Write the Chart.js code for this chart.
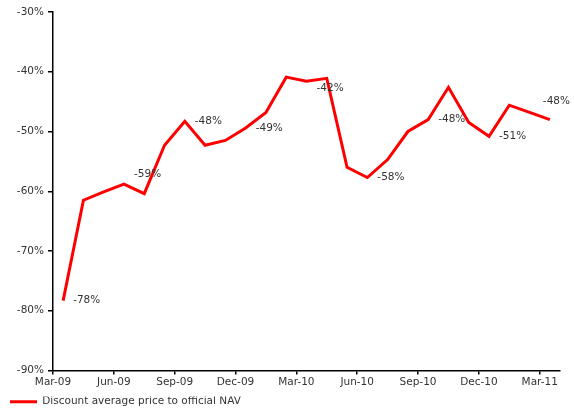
<!DOCTYPE html>
<html>
<head>
<meta charset="utf-8">
<script src="https://cdn.jsdelivr.net/npm/chart.js@4/dist/chart.umd.min.js"></script>
<style>
  html, body { margin: 0; padding: 0; background: #fff; }
  #wrap { width: 574px; height: 409px; }
</style>
</head>
<body>
<div id="wrap"><canvas id="navChart"></canvas></div>
<script>
// Monthly discount of average price to official NAV, Mar-09 .. Mar-11
const months = [
  'Mar-09', 'Apr-09', 'May-09', 'Jun-09', 'Jul-09', 'Aug-09', 'Sep-09', 'Oct-09', 'Nov-09',
  'Dec-09', 'Jan-10', 'Feb-10', 'Mar-10', 'Apr-10', 'May-10', 'Jun-10', 'Jul-10', 'Aug-10',
  'Sep-10', 'Oct-10', 'Nov-10', 'Dec-10', 'Jan-11', 'Feb-11', 'Mar-11'
];
const discount = [
  -78.3, -61.5, -60.1, -58.8, -60.4, -52.3, -48.3, -52.3, -51.5,
  -49.4, -46.8, -40.9, -41.6, -41.1, -56.0, -57.7, -54.7, -50.0,
  -48.0, -42.6, -48.5, -50.8, -45.6, -46.8, -48.0
];
const seriesName = 'Discount average price to official NAV';
const yTicks = [-90, -80, -70, -60, -50, -40, -30];

const FONT = { family: 'DejaVu Sans', size: 10.5 };
const TEXT = '#333333';

// quarter-end points carry a value label; nudges keep them off the line
const labelNudge = { 3: [10, -10], 12: [10, 7], 24: [-7, -18] };

const pointLabels = {
  id: 'pointLabels',
  afterDatasetsDraw(chart) {
    const ctx = chart.ctx;
    const meta = chart.getDatasetMeta(0);
    ctx.save();
    ctx.font = FONT.size + 'px ' + FONT.family;
    ctx.fillStyle = TEXT;
    ctx.textAlign = 'left';
    ctx.textBaseline = 'middle';
    meta.data.forEach((pt, i) => {
      if (i % 3 !== 0) return;
      const [dx, dy] = labelNudge[i] || [10, 0];
      ctx.fillText(Math.round(discount[i]) + '%', pt.x + dx, pt.y + dy);
    });
    ctx.restore();
  }
};

new Chart(document.getElementById('navChart'), {
  type: 'line',
  data: {
    datasets: [{
      label: seriesName,
      data: discount.map((v, i) => ({ x: i + 0.5, y: v })),
      borderColor: '#ff0000',
      backgroundColor: '#ff0000',
      borderWidth: 3,
      pointRadius: 0,
      tension: 0,
      fill: false
    }]
  },
  options: {
    responsive: true,
    maintainAspectRatio: false,
    animation: false,
    // legend box runs a little past the bottom edge so its line sits low
    layout: { padding: { top: 12, right: 14, left: 10, bottom: -8 } },
    scales: {
      x: {
        type: 'linear',
        min: 0,
        max: months.length,
        afterFit: s => { s.height = 26; },
        border: { color: '#000', width: 1.5 },
        grid: { drawOnChartArea: false, color: '#000', tickLength: 4, lineWidth: 1.5 },
        ticks: {
          stepSize: 3,
          includeBounds: false,
          autoSkip: false,
          maxRotation: 0,
          padding: 1,
          color: TEXT,
          font: FONT,
          callback: v => months[v] || ''
        }
      },
      y: {
        min: yTicks[0],
        max: yTicks[yTicks.length - 1],
        afterFit: s => { s.width = 43; },
        border: { color: '#000', width: 1.5 },
        grid: { drawOnChartArea: false, color: '#000', tickLength: 5, lineWidth: 1.5 },
        ticks: {
          stepSize: 10,
          padding: 4,
          color: TEXT,
          font: FONT,
          callback: v => v + '%'
        }
      }
    },
    plugins: {
      legend: {
        position: 'bottom',
        align: 'start',
        labels: {
          color: TEXT,
          font: FONT,
          usePointStyle: true,
          pointStyle: 'line',
          pointStyleWidth: 27,
          padding: 0
        }
      },
      tooltip: { enabled: false }
    }
  },
  plugins: [pointLabels]
});
</script>
</body>
</html>
